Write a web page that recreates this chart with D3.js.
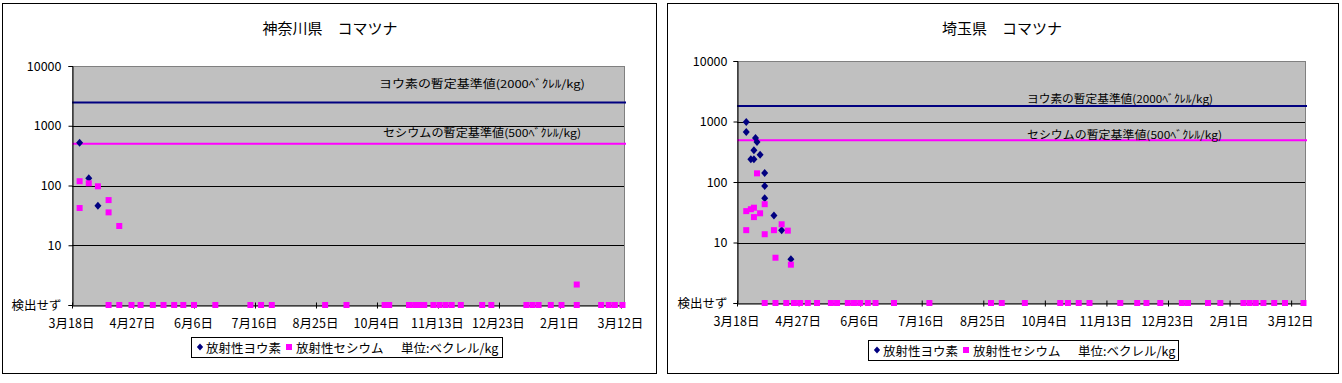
<!DOCTYPE html>
<html><head><meta charset="utf-8">
<script src="https://cdn.jsdelivr.net/npm/d3@7"></script>
<style>body{margin:0;background:#fff}svg{display:block}text{font-family:"Noto Sans CJK JP","Noto Sans",sans-serif;fill:#000}</style>
</head><body><svg id="c" width="1342" height="383"></svg>
<script>
// ---------- data ----------
const xStart = "2011-03-18";
const xTickDates = ["2011-03-18","2011-04-27","2011-06-06","2011-07-16","2011-08-25","2011-10-04","2011-11-13","2011-12-23","2012-02-01","2012-03-12"];
const xTickLabels = ["3月18日","4月27日","6月6日","7月16日","8月25日","10月4日","11月13日","12月23日","2月1日","3月12日"];
const yTickValues = [1, 10, 100, 1000, 10000];
const yTickLabels = ["検出せず", "10", "100", "1000", "10000"];
const gridValues = [10, 100, 1000];
const notDetectedValue = 1;
const limitLabels = ["ヨウ素の暫定基準値(2000ﾍﾞｸﾚﾙ/kg)", "セシウムの暫定基準値(500ﾍﾞｸﾚﾙ/kg)"];
const legendLabels = ["放射性ヨウ素", "放射性セシウム", "単位:ベクレル/kg"];
const titles = ["神奈川県　コマツナ", "埼玉県　コマツナ"];

const kanagawaLimits = [2450, 500];
const kanagawaIodine = [["2011-03-23",520],["2011-03-29",132],["2011-04-04",46]];
const kanagawaCesium = [["2011-03-23",118],["2011-03-23",42],["2011-03-29",109],["2011-04-04",97],["2011-04-11",57],["2011-04-11",35.5],["2011-04-18",21],["2012-02-12",2.2]];
const kanagawaCesiumND = ["2011-04-11","2011-04-18","2011-04-26","2011-05-02","2011-05-10","2011-05-17","2011-05-24","2011-05-30","2011-06-06","2011-06-20","2011-07-13","2011-07-20","2011-07-27","2011-08-31","2011-09-14","2011-10-09","2011-10-12","2011-10-25","2011-10-29","2011-11-01","2011-11-04","2011-11-10","2011-11-14","2011-11-18","2011-11-22","2011-11-28","2011-12-12","2011-12-18","2012-01-10","2012-01-14","2012-01-18","2012-01-26","2012-02-02","2012-02-12","2012-02-28","2012-03-04","2012-03-08","2012-03-13"];

const saitamaLimits = [1800, 490];
const saitamaIodine = [["2011-03-24",980],["2011-03-24",670],["2011-03-27",237],["2011-03-29",237],["2011-03-29",334],["2011-03-30",534],["2011-03-31",458],["2011-04-02",283],["2011-04-05",141],["2011-04-05",86],["2011-04-05",54],["2011-04-11",28],["2011-04-16",16],["2011-04-22",5.3]];
const saitamaCesium = [["2011-03-24",33],["2011-03-24",16],["2011-03-27",35.5],["2011-03-29",37.6],["2011-03-29",26.3],["2011-03-31",139],["2011-04-02",30.4],["2011-04-05",43],["2011-04-05",13.7],["2011-04-11",16],["2011-04-12",5.6],["2011-04-16",20],["2011-04-20",15.7],["2011-04-22",4.3]];
const saitamaCesiumND = ["2011-04-05","2011-04-12","2011-04-19","2011-04-24","2011-04-28","2011-05-03","2011-05-09","2011-05-18","2011-05-22","2011-05-29","2011-06-02","2011-06-06","2011-06-11","2011-06-16","2011-06-28","2011-07-21","2011-08-30","2011-09-06","2011-09-21","2011-10-14","2011-10-19","2011-10-26","2011-11-02","2011-11-22","2011-12-03","2011-12-09","2011-12-18","2012-01-01","2012-01-05","2012-01-18","2012-01-26","2012-02-10","2012-02-14","2012-02-18","2012-02-23","2012-03-01","2012-03-08","2012-03-20"];

// ---------- layout ----------
const parse = d3.timeParse("%Y-%m-%d");
const svg = d3.select("#c");
const NAVY = "#000080", PINK = "#FF00FF";

const charts = [
  {title: titles[0], xEnd: "2012-03-14", frame: [2, 3, 654, 370], plot: {l: 72, r: 624, t: 66, b: 305},
   titleX: 330, titleY: 27, limits: kanagawaLimits, iodine: kanagawaIodine, cesium: kanagawaCesium, nd: kanagawaCesiumND,
   limitText: [[379, 206, 83], [383, 198, 131.5]], yPad: 7, legend: [191, 337, 311, 20]},
  {title: titles[1], xEnd: "2012-03-21", frame: [667, 3, 671, 370], plot: {l: 737, r: 1305, t: 61, b: 303},
   titleX: 1002, titleY: 27, limits: saitamaLimits, iodine: saitamaIodine, cesium: saitamaCesium, nd: saitamaCesiumND,
   limitText: [[1027, 186, 98], [1027, 195, 134]], yPad: 6, legend: [868, 340, 310, 20]}
];

const diamond = "M0,-4L3.5,0L0,4L-3.5,0Z";

charts.forEach(cfg => {
  const g = svg.append("g");
  const [fx, fy, fw, fh] = cfg.frame;
  g.append("rect").attr("x", fx + 0.5).attr("y", fy + 0.5).attr("width", fw).attr("height", fh)
    .attr("fill", "#fff").attr("stroke", "#000").attr("stroke-width", 1);

  g.append("text").attr("x", cfg.titleX).attr("y", cfg.titleY).attr("text-anchor", "middle")
    .attr("dominant-baseline", "central").attr("font-size", 15).text(cfg.title);

  const x = d3.scaleTime().domain([parse(xStart), parse(cfg.xEnd)]).range([cfg.plot.l, cfg.plot.r]);
  const y = d3.scaleLog().domain([1, 10000]).range([cfg.plot.b, cfg.plot.t]);

  g.append("rect").attr("x", cfg.plot.l + 0.5).attr("y", cfg.plot.t + 0.5)
    .attr("width", cfg.plot.r - cfg.plot.l).attr("height", cfg.plot.b - cfg.plot.t)
    .attr("fill", "#C0C0C0").attr("stroke", "#808080");

  g.selectAll(".grid").data(gridValues).enter().append("line")
    .attr("x1", cfg.plot.l).attr("x2", cfg.plot.r)
    .attr("y1", d => Math.round(y(d)) + 0.5).attr("y2", d => Math.round(y(d)) + 0.5)
    .attr("stroke", "#000");

  // limit lines
  const limitColors = [NAVY, PINK];
  cfg.limits.forEach((v, i) => {
    g.append("line").attr("x1", cfg.plot.l).attr("x2", cfg.plot.r + 2)
      .attr("y1", y(v)).attr("y2", y(v)).attr("stroke", limitColors[i]).attr("stroke-width", 2);
    const [tx, tw, ty] = cfg.limitText[i];
    g.append("text").attr("x", tx).attr("y", ty).attr("dominant-baseline", "central")
      .attr("font-size", 11).attr("textLength", tw).attr("lengthAdjust", "spacingAndGlyphs")
      .text(limitLabels[i]);
  });

  // y axis
  const ya = g.append("g").attr("transform", `translate(${cfg.plot.l + 0.5},0)`)
    .call(d3.axisLeft(y).tickValues(yTickValues).tickFormat((d, i) => yTickLabels[i]).tickSize(4).tickPadding(cfg.yPad));
  ya.selectAll("text").attr("font-size", 12.5).attr("font-family", null).attr("fill", "#000");
  ya.selectAll("path,line").attr("stroke", "#000");

  // x axis
  const xa = g.append("g").attr("transform", `translate(0,${cfg.plot.b + 0.5})`)
    .call(d3.axisBottom(x).tickValues(xTickDates.map(parse)).tickFormat((d, i) => xTickLabels[i]).tickSizeOuter(0));
  xa.selectAll(".tick line").attr("y1", -3).attr("y2", 3).attr("stroke", "#000");
  xa.select(".domain").attr("stroke", "#000");
  xa.selectAll("text").attr("font-size", 12.5).attr("font-family", null).attr("fill", "#000")
    .attr("x", -1).attr("y", 18).attr("dy", "0.35em");

  // iodine (diamonds)
  g.selectAll(".iod").data(cfg.iodine).enter().append("path")
    .attr("d", diamond).attr("fill", NAVY)
    .attr("transform", d => `translate(${x(parse(d[0]))},${y(d[1])})`);
  // cesium detected + not detected (squares)
  const ces = cfg.cesium.concat(cfg.nd.map(d => [d, notDetectedValue]));
  g.selectAll(".ces").data(ces).enter().append("rect")
    .attr("x", d => x(parse(d[0])) - 3).attr("y", d => y(d[1]) - 3)
    .attr("width", 6).attr("height", 6).attr("fill", PINK);

  // legend
  const [lx, ly, lw, lh] = cfg.legend;
  const lg = g.append("g");
  lg.append("rect").attr("x", lx + 0.5).attr("y", ly + 0.5).attr("width", lw).attr("height", lh)
    .attr("fill", "#fff").attr("stroke", "#000");
  const cy = ly + lh / 2;
  lg.append("path").attr("d", diamond).attr("fill", NAVY).attr("transform", `translate(${lx + 9},${cy}) scale(0.9)`);
  lg.append("text").attr("x", lx + 15).attr("y", cy).attr("dominant-baseline", "central").attr("font-size", 12.5).text(legendLabels[0]);
  lg.append("rect").attr("x", lx + 95).attr("y", cy - 3).attr("width", 6).attr("height", 6).attr("fill", PINK);
  lg.append("text").attr("x", lx + 105).attr("y", cy).attr("dominant-baseline", "central").attr("font-size", 12.5).text(legendLabels[1]);
  lg.append("text").attr("x", lx + 210).attr("y", cy).attr("dominant-baseline", "central").attr("font-size", 12.5).text(legendLabels[2]);
});
</script></body></html>
